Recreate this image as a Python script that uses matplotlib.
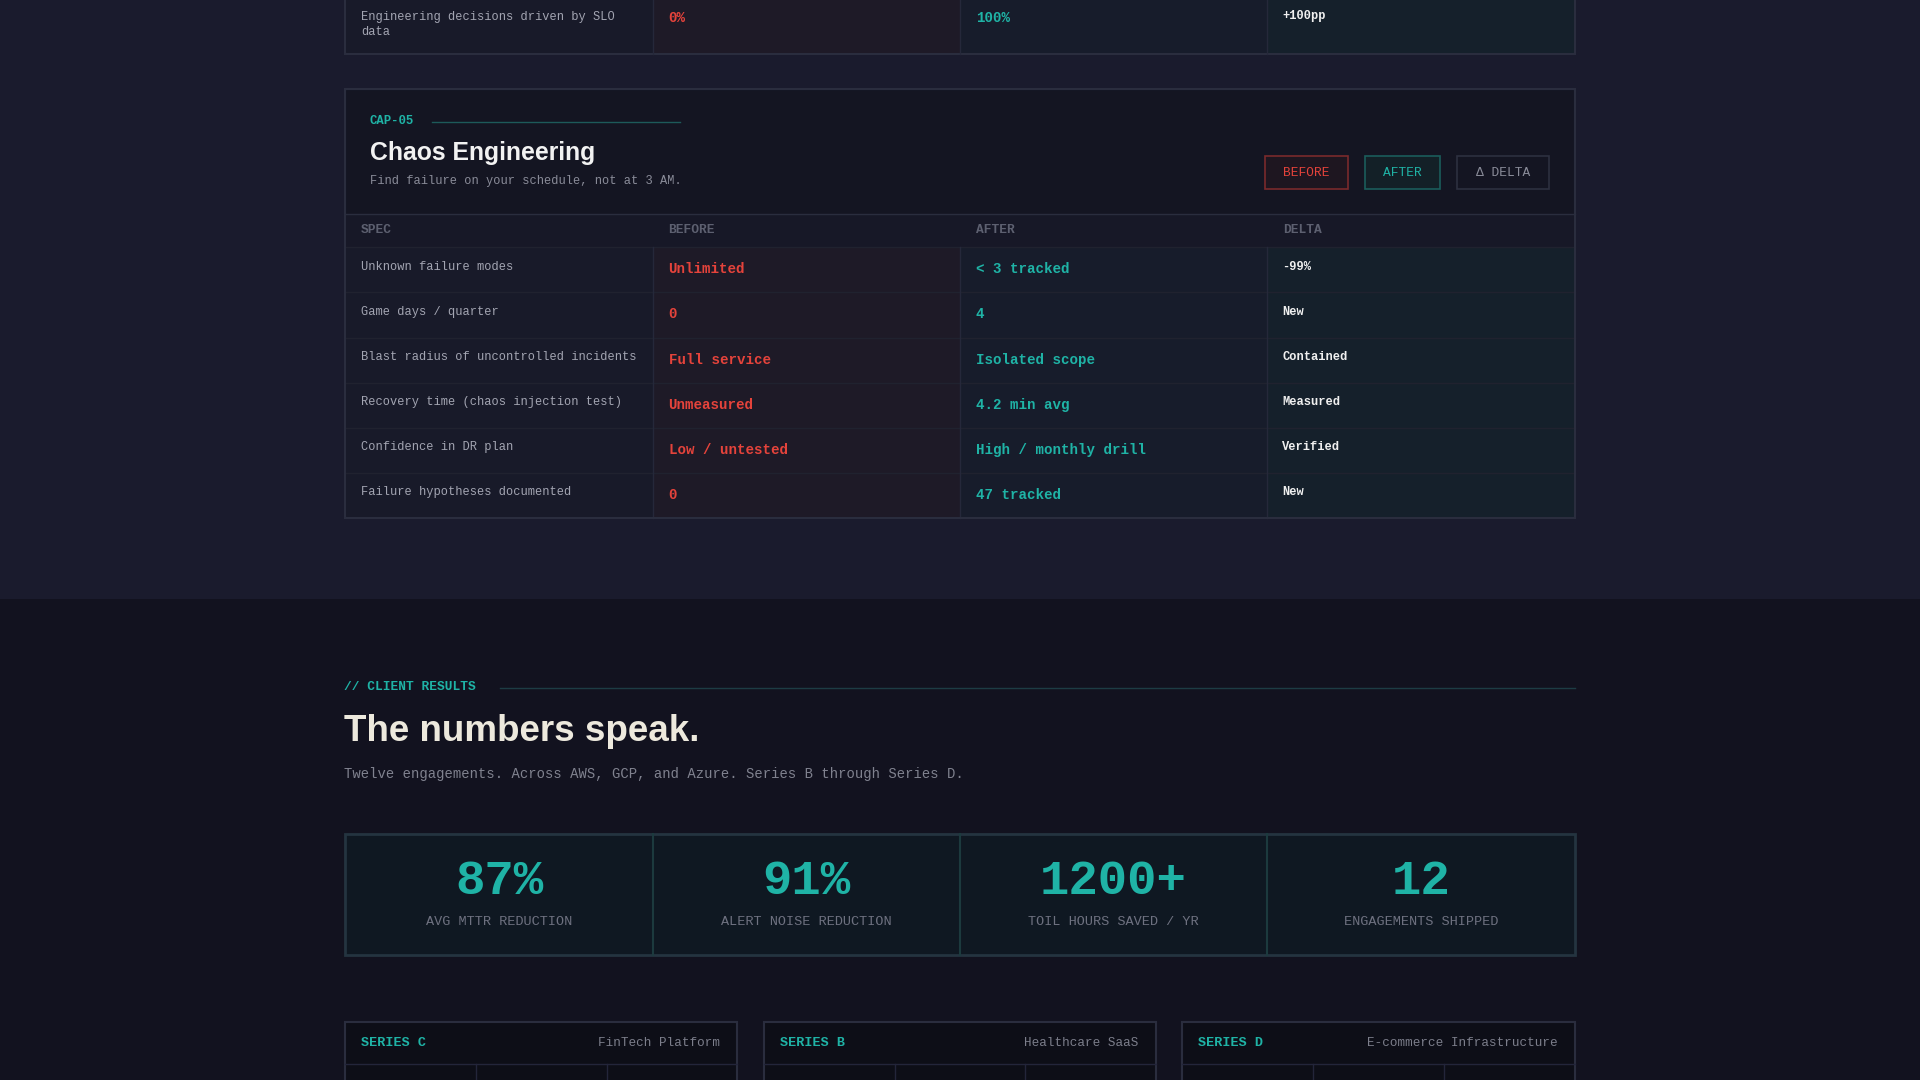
import matplotlib.pyplot as plt
from matplotlib.patches import Rectangle

# layout is drawn in reference pixel space (1568 x 882) and scaled to 1920x1080
W, H = 1568, 882
S = 1920 / W

top_row = ["Engineering decisions driven by SLO\ndata", "0%", "100%", "+100pp"]

cap_id = "CAP-05"
cap_title = "Chaos Engineering"
cap_sub = "Find failure on your schedule, not at 3 AM."
headers = ["SPEC", "BEFORE", "AFTER", "DELTA"]
specs = ["Unknown failure modes", "Game days / quarter",
         "Blast radius of uncontrolled incidents",
         "Recovery time (chaos injection test)", "Confidence in DR plan",
         "Failure hypotheses documented"]
before = ["Unlimited", "0", "Full service", "Unmeasured", "Low / untested", "0"]
after = ["< 3 tracked", "4", "Isolated scope", "4.2 min avg",
         "High / monthly drill", "47 tracked"]
delta = ["-99%", "New", "Contained", "Measured", "Verified", "New"]

stat_values = ["87%", "91%", "1200+", "12"]
stat_labels = ["AVG MTTR REDUCTION", "ALERT NOISE REDUCTION",
               "TOIL HOURS SAVED / YR", "ENGAGEMENTS SHIPPED"]

case_series = ["SERIES C", "SERIES B", "SERIES D"]
case_names = ["FinTech Platform", "Healthcare SaaS", "E-commerce Infrastructure"]

RED = "#e5433b"
TEAL = "#1fb3a6"
GRAY = "#8a8c99"
MONO = ["Liberation Mono", "DejaVu Sans Mono"]
SANS = ["Liberation Sans", "DejaVu Sans"]


def fs(px):
    return px * S * 0.72


fig = plt.figure(figsize=(19.2, 10.8), dpi=100)
ax = fig.add_axes([0, 0, 1, 1])
ax.set_xlim(0, W)
ax.set_ylim(H, 0)
ax.axis("off")


def rect(x0, y0, x1, y1, fc, ec="none", lw=1.0, z=1):
    ax.add_patch(Rectangle((x0, y0), x1 - x0, y1 - y0, fc=fc, ec=ec, lw=lw, zorder=z))


def txt(x, y, s, px, color, family=MONO, weight="normal", ha="left", va="center", **kw):
    ax.text(x, y, s, fontsize=fs(px), color=color, family=family,
            fontweight=weight, ha=ha, va=va, zorder=5, **kw)


# backgrounds
rect(0, 0, W, 489, "#1a1b2d")
rect(0, 489, W, H, "#12121f")

cols = [282, 533, 784, 1035, 1286]
col_bg = ["#181a29", "#1e1a27", "#171c2b", "#15202b"]

# top (previous) card tail
for i in range(4):
    rect(cols[i], -5, cols[i + 1], 44, col_bg[i])
rect(282, -5, 1286, 44, "none", "#2a2d3e", 1.5, 3)
for x in cols[1:4]:
    ax.plot([x, x], [-5, 44], color="#25283a", lw=1, zorder=3)
txt(295, 20, top_row[0], 9.8, "#a3a5b2", linespacing=1.3)
txt(546, 15, top_row[1], 11.5, RED, weight="bold")
txt(797, 15, top_row[2], 11.5, TEAL, weight="bold")
txt(1047, 13, top_row[3], 9.8, "#f0f0f0", weight="bold")

# chaos engineering card
rect(282, 73, 1286, 423, "#141522", "#2a2d3e", 1.5, 2)
txt(302, 99, cap_id, 10, TEAL, weight="bold")
ax.plot([353, 555], [100, 100], color="#1d5a5a", lw=1, zorder=3)
txt(302, 125, cap_title, 20.2, "#f2f2f2", family=SANS, weight="bold")
txt(302, 148, cap_sub, 9.8, GRAY)

buttons = [("BEFORE", 1033, 1101, RED, "#7a2a2c", "#1e1620"),
           ("AFTER", 1115, 1176, TEAL, "#1b5d5b", "#132027"),
           ("Δ DELTA", 1190, 1265, GRAY, "#2d3040", "#141522")]
for label, x0, x1, c, ec, fc in buttons:
    rect(x0, 127, x1, 154, fc, ec, 1.2, 3)
    txt((x0 + x1) / 2, 141, label, 10.5, c, ha="center")

rect(282, 175, 1286, 202, "#171827", z=2)
ax.plot([282, 1286], [175, 175], color="#2a2d3e", lw=1, zorder=3)
for i, h in enumerate(headers):
    txt(cols[i] + 13, 188, h, 10.5, "#5d6070", weight="bold")

row_h = (423 - 202) / len(specs)
for r in range(len(specs)):
    y0 = 202 + r * row_h
    for i in range(4):
        rect(cols[i], y0, cols[i + 1], y0 + row_h, col_bg[i], z=2)
    ax.plot([282, 1286], [y0, y0], color="#20222f", lw=1, zorder=3)
    txt(295, y0 + 16, specs[r], 9.8, "#a3a5b2")
    txt(546, y0 + 18, before[r], 11.5, RED, weight="bold")
    txt(797, y0 + 18, after[r], 11.5, TEAL, weight="bold")
    txt(1047, y0 + 16, delta[r], 9.8, "#f0f0f0", weight="bold")
for x in cols[1:4]:
    ax.plot([x, x], [202, 423], color="#25283a", lw=1, zorder=3)
rect(282, 73, 1286, 423, "none", "#2a2d3e", 1.5, 4)

# client results section
txt(281, 561, "// CLIENT RESULTS", 10.5, TEAL, weight="bold")
ax.plot([408, 1286], [562, 562], color="#1d3c44", lw=1, zorder=3)
txt(281, 597, "The numbers speak.", 30, "#ede9dd", family=SANS, weight="bold")
txt(281, 632, "Twelve engagements. Across AWS, GCP, and Azure. Series B through Series D.",
    11.35, "#80828f")

rect(282, 681, 1286, 780, "#0f1822", "#243440", 2, 2)
for i in range(4):
    cx = (cols[i] + cols[i + 1]) / 2
    txt(cx, 720, stat_values[i], 40, TEAL, weight="bold", ha="center")
    txt(cx, 753, stat_labels[i], 11, "#6e7180", ha="center")
for x in cols[1:4]:
    ax.plot([x, x], [681, 780], color="#1c3a3e", lw=1.5, zorder=3)

# case study cards (cut off at bottom)
cards = [(282, 602), (624, 944), (965, 1286)]
for k, (x0, x1) in enumerate(cards):
    rect(x0, 835, x1, H + 10, "#0d0e17", "#2a2d3e", 1.5, 2)
    ax.plot([x0, x1], [869, 869], color="#23253a", lw=1, zorder=3)
    third = (x1 - x0) / 3
    for j in (1, 2):
        ax.plot([x0 + j * third] * 2, [869, H], color="#23253a", lw=1, zorder=3)
    txt(x0 + 13, 852, case_series[k], 11, TEAL, weight="bold")
    txt(x1 - 14, 852, case_names[k], 10.3, "#7c7e8b", ha="right")

fig.savefig("out.png", dpi=100, facecolor=fig.get_facecolor())
